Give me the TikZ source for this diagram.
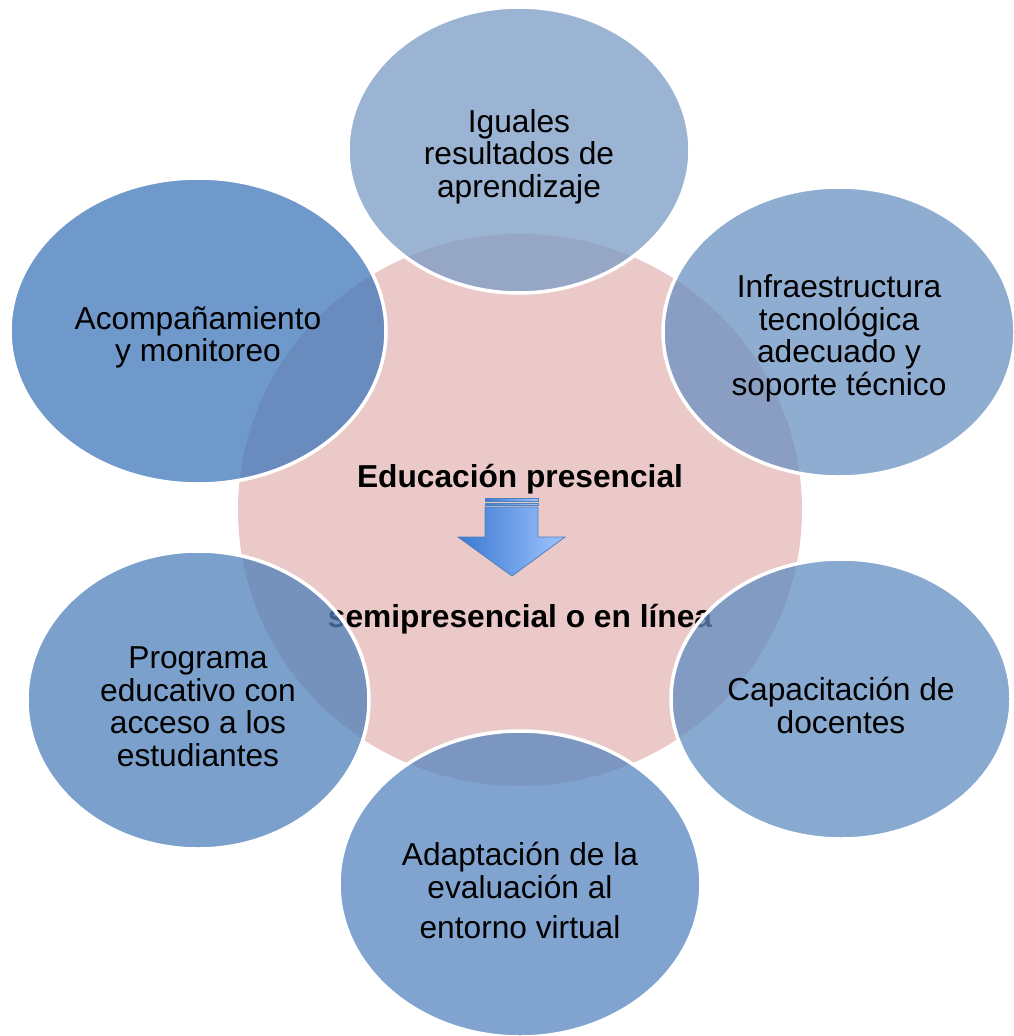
\documentclass[tikz,border=0pt]{standalone}
\usepackage{fontspec}
\setmainfont{Liberation Sans}
\usetikzlibrary{shapes.geometric}
\definecolor{pinkc}{RGB}{235,201,201}
\definecolor{cTop}{RGB}{122,155,196}
\definecolor{cUL}{RGB}{64,119,186}
\definecolor{cUR}{RGB}{106,144,194}
\definecolor{cLL}{RGB}{78,128,186}
\definecolor{cLR}{RGB}{96,140,192}
\definecolor{cBot}{RGB}{86,134,191}
\definecolor{arrL}{RGB}{58,120,208}
\definecolor{arrR}{RGB}{160,196,255}
\definecolor{arrB}{RGB}{79,129,189}
\begin{document}
\begin{tikzpicture}[x=1pt,y=-1pt,
  bub/.style={ellipse, inner sep=0pt, fill opacity=0.75,
    draw=white, draw opacity=1, line width=3.5pt},
  bubtext/.style={inner sep=0pt, align=center, yshift=-6.5pt,
    font=\fontsize{31.7}{32.5}\selectfont},
  midtext/.style={inner sep=0pt, font=\bfseries\fontsize{31.7}{32.5}\selectfont},
  arrowpart/.style={left color=arrL, right color=arrR, draw=arrB, line width=0.8pt}
]
\useasboundingbox (0,0) rectangle (1013,1036);
% central disc
\node[ellipse, fill=pinkc, minimum width=564pt, minimum height=552pt, inner sep=0pt] (centro) at (520,510) {};
% central texts
\node[midtext] (edu) at (520,479) {Educación presencial};
\node[midtext] (semi) at (520,619) {semipresencial o en línea};
% arrow
\shadedraw[arrowpart] (485,498) rectangle (538,501);
\shadedraw[arrowpart] (485,503) rectangle (538,505.5);
\shadedraw[arrowpart] (485,507) -- (538,507) -- (538,537) -- (565,537) -- (512,576) -- (458,537) -- (485,537) -- cycle;
% bubbles
\node[bub, fill=cTop, minimum width=342pt, minimum height=286pt] (b1) at (519,150) {};
\node[bub, fill=cUR, minimum width=352pt, minimum height=290pt] (b2) at (839,332) {};
\node[bub, fill=cUL, minimum width=376pt, minimum height=306pt] (b3) at (198,331) {};
\node[bub, fill=cLL, minimum width=342pt, minimum height=298pt] (b4) at (198,700) {};
\node[bub, fill=cLR, minimum width=340pt, minimum height=280pt] (b5) at (841,699) {};
\node[bub, fill=cBot, minimum width=362pt, minimum height=306pt] (b6) at (520,884) {};
% bubble texts
\node[bubtext] (t1) at (b1.center) {Iguales\\resultados de\\aprendizaje};
\node[bubtext] (t2) at (b2.center) {Infraestructura\\tecnológica\\adecuado y\\soporte técnico};
\node[bubtext] (t3) at (b3.center) {Acompañamiento\\y monitoreo};
\node[bubtext] (t4) at (b4.center) {Programa\\educativo con\\acceso a los\\estudiantes};
\node[bubtext] (t5) at (b5.center) {Capacitación de\\docentes};
\node[bubtext] (t6) at (b6.center) {Adaptación de la\\evaluación al\\[8pt]entorno virtual};
\end{tikzpicture}
\end{document}
